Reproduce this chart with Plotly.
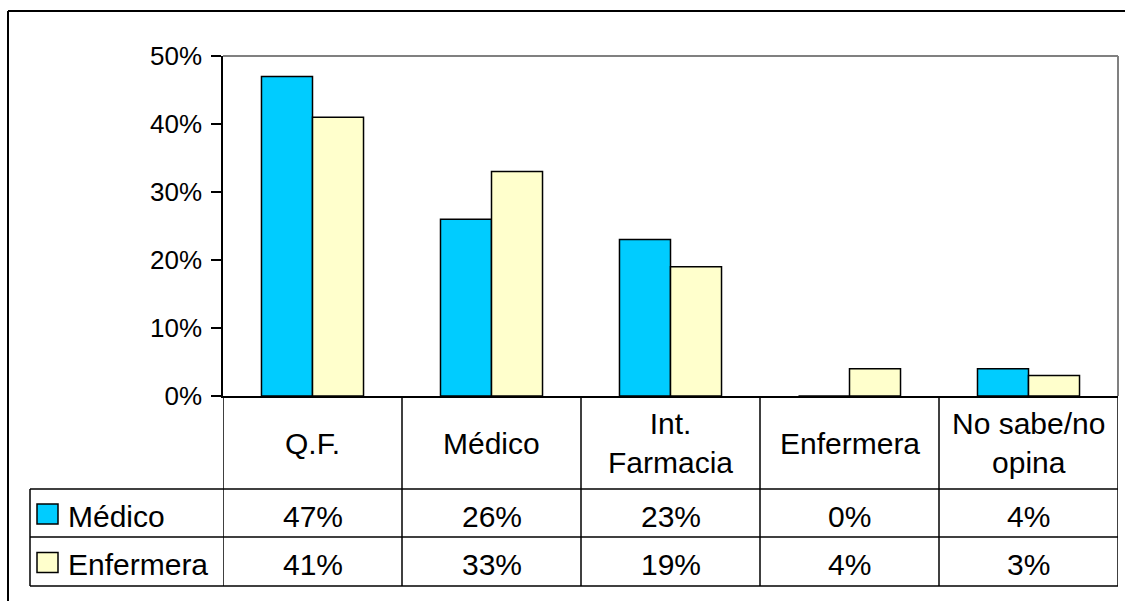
import plotly.graph_objects as go

# Survey answers: who should give the information, by respondent group
categories = ["Q.F.", "Médico", "Int. Farmacia", "Enfermera", "No sabe/no opina"]
header_labels = ["Q.F.", "Médico", "Int.<br>Farmacia", "Enfermera", "No sabe/no<br>opina"]
medico = [47, 26, 23, 0, 4]
enfermera = [41, 33, 19, 4, 3]
series_names = ["Médico", "Enfermera"]
series_colors = ["#00CCFF", "#FFFFCC"]
y_ticks = [0, 10, 20, 30, 40, 50]
y_tick_text = ["0%", "10%", "20%", "30%", "40%", "50%"]

W, H = 1125, 601
FONT = "Arial, Liberation Sans, sans-serif"


def px(x):
    return x / W


def py(y):
    return 1 - y / H


fig = go.Figure()
for name, vals, col in zip(series_names, [medico, enfermera], series_colors):
    fig.add_trace(go.Bar(
        x=categories, y=vals, name=name,
        marker=dict(color=col, line=dict(color="black", width=1.5)),
        showlegend=False,
    ))

# plot area edges (pixels)
PL, PR, PT, PB = 223, 1118, 56, 396
# data-table rows (pixels)
ROW_HDR_B, ROW1_B, ROW2_B = 489, 537, 586
TABLE_L = 30

shapes = []
# outer chart frame (top and left edges; the rest runs off the page)
shapes.append(dict(type="line", xref="paper", yref="paper",
                   x0=px(8), x1=1, y0=py(11), y1=py(11),
                   line=dict(color="black", width=2)))
shapes.append(dict(type="line", xref="paper", yref="paper",
                   x0=px(8), x1=px(8), y0=py(11), y1=0,
                   line=dict(color="black", width=2)))
# gray plot-area border (top and right)
shapes.append(dict(type="line", xref="paper", yref="paper",
                   x0=px(PL), x1=px(PR), y0=py(PT), y1=py(PT),
                   line=dict(color="#808080", width=2)))
shapes.append(dict(type="line", xref="paper", yref="paper",
                   x0=px(PR), x1=px(PR), y0=py(PT), y1=py(PB),
                   line=dict(color="#808080", width=2)))
# table column separators at category boundaries
for i in range(len(categories) + 1):
    shapes.append(dict(type="line", xref="x", yref="paper",
                       x0=i - 0.5, x1=i - 0.5, y0=py(PB), y1=py(ROW2_B),
                       line=dict(color="black", width=1.5)))
# table row separators
for yy in (ROW_HDR_B, ROW1_B, ROW2_B):
    shapes.append(dict(type="line", xref="paper", yref="paper",
                       x0=px(TABLE_L), x1=px(PR), y0=py(yy), y1=py(yy),
                       line=dict(color="black", width=1.5)))
shapes.append(dict(type="line", xref="paper", yref="paper",
                   x0=px(TABLE_L), x1=px(TABLE_L), y0=py(ROW_HDR_B), y1=py(ROW2_B),
                   line=dict(color="black", width=1.5)))

annotations = []
# header row: category names
for cat, lab in zip(categories, header_labels):
    annotations.append(dict(x=cat, xref="x", y=py(443), yref="paper",
                            text=lab, showarrow=False,
                            xanchor="center", yanchor="middle",
                            font=dict(family=FONT, size=30, color="black")))
# value rows with legend keys
row_centers = [(ROW_HDR_B + ROW1_B) / 2 + 3, (ROW1_B + ROW2_B) / 2 + 3]
for name, vals, col, yc in zip(series_names, [medico, enfermera], series_colors, row_centers):
    shapes.append(dict(type="rect", xref="paper", yref="paper",
                       x0=px(37), x1=px(58), y0=py(yc + 8), y1=py(yc - 12),
                       fillcolor=col, line=dict(color="black", width=1.5)))
    annotations.append(dict(x=px(66), xref="paper", y=py(yc), yref="paper",
                            text=name, showarrow=False,
                            xanchor="left", yanchor="middle",
                            font=dict(family=FONT, size=30, color="black")))
    for cat, v in zip(categories, vals):
        annotations.append(dict(x=cat, xref="x", y=py(yc), yref="paper",
                                text=f"{v}%", showarrow=False,
                                xanchor="center", yanchor="middle",
                                font=dict(family=FONT, size=30, color="black")))

fig.update_layout(
    width=W, height=H, autosize=False,
    margin=dict(l=0, r=0, t=0, b=0, pad=0, autoexpand=False),
    paper_bgcolor="white", plot_bgcolor="white",
    barmode="group", bargap=0.43, bargroupgap=0,
    xaxis=dict(domain=[px(PL), px(PR)], range=[-0.5, 4.5], automargin=False,
               showticklabels=False, showgrid=False, zeroline=False,
               showline=True, linecolor="black", linewidth=1.5, ticks=""),
    yaxis=dict(domain=[py(PB), py(PT)], range=[0, 50], automargin=False,
               tickmode="array", tickvals=y_ticks, ticktext=y_tick_text,
               showgrid=False, zeroline=False,
               showline=True, linecolor="black", linewidth=1.5,
               ticks="outside", ticklen=10, tickwidth=1.5, tickcolor="black",
               ticklabelstandoff=4,
               tickfont=dict(family=FONT, size=26, color="black")),
    shapes=shapes, annotations=annotations,
)

fig.write_html("out.html")
